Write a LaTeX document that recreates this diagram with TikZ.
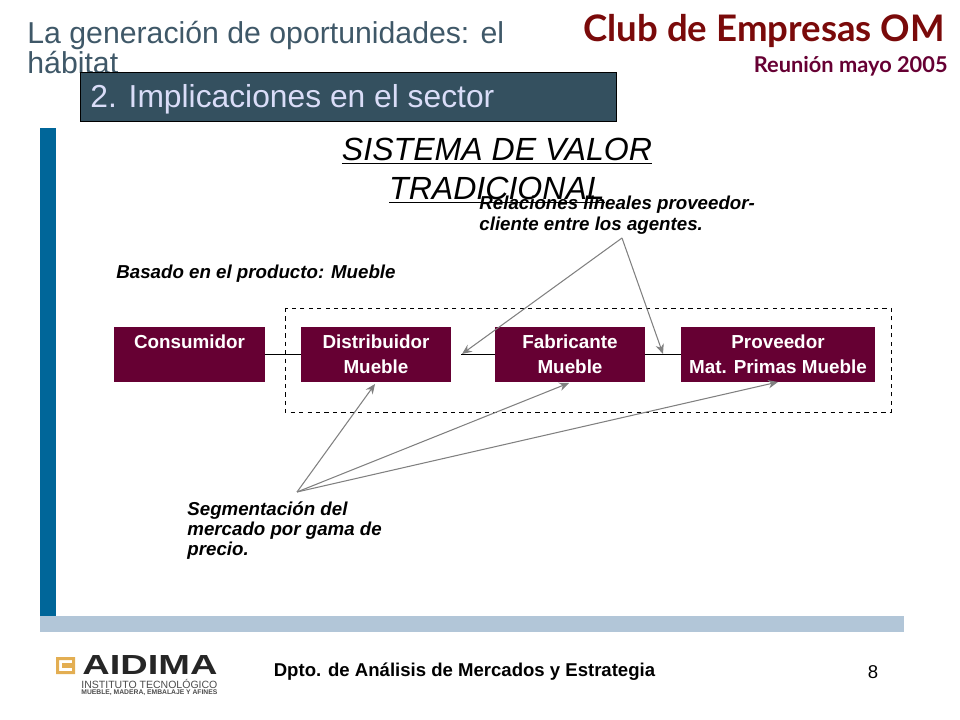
\documentclass[tikz,border=0pt]{standalone}
\usepackage{fontspec}
\usetikzlibrary{arrows.meta}
\setmainfont{Liberation Sans}
\newfontfamily\gillfont{Lato}
\newcommand{\fs}[2]{\fontsize{#1}{#2}\selectfont}
\definecolor{wine}{HTML}{660033}
\definecolor{clubred}{HTML}{7A0A0A}
\definecolor{barblue}{HTML}{006699}
\definecolor{barlight}{HTML}{B2C6D8}
\definecolor{headfill}{HTML}{34505F}
\definecolor{headtext}{HTML}{DADDF8}
\definecolor{titletext}{HTML}{3F5868}
\definecolor{logogold}{HTML}{E3AE52}
\begin{document}
\begin{tikzpicture}
  [x=0.025cm,y=-0.025cm,>=stealth,line width=.6pt,
   box/.style={fill=wine,text=white,font=\fs{13.4}{17.8}\bfseries,align=center,inner sep=0pt,minimum height=39.2pt},
   note/.style={font=\fs{13.3}{14.4}\bfseries\itshape,align=left,anchor=north west,inner sep=0pt},
   callout/.style={draw=gray,line width=.75pt,->,>={Stealth[length=7pt,width=6pt]}},]
\useasboundingbox (0,0) rectangle (960,720);

% bars and header
\fill[barblue] (40,128) rectangle (56,616);
\fill[barlight] (40,616) rectangle (904,632);
\node (maintitle) [anchor=north west,inner sep=0pt,align=left,text=titletext,font=\fs{21.5}{17.8}] at (27,21) {La generación de oportunidades: el\\hábitat};
\node (header) [draw=black,fill=headfill,anchor=north west,minimum width=381.5pt,minimum height=34.8pt,inner sep=0pt] at (80,72) {};
\node (headertext) [anchor=west,inner sep=0pt,text=headtext,font=\fs{22.6}{24}] at (90,99) {2. Implicaciones en el sector};
\node (club) [anchor=east,inner sep=0pt,text=clubred,font=\gillfont\fs{26}{26}\bfseries] at (945,31) {Club de Empresas OM};
\node (reunion) [anchor=east,inner sep=0pt,text=wine,font=\gillfont\fs{15.5}{16}\bfseries] at (948,66) {Reunión mayo 2005};

% text
\node (sistema) [inner sep=0pt,align=center,font=\fs{22.8}{27.7}\itshape] at (497,170.5) {\underline{SISTEMA DE VALOR}\\\underline{TRADICIONAL}};
\node (relaciones) [note] at (479,196) {Relaciones lineales proveedor-\\cliente entre los agentes.};
\node (basado) [note,anchor=west] at (116,274) {Basado en el producto: Mueble};
\node (segmentacion) [note] at (187,501) {Segmentación del\\mercado por gama de\\precio.};

% chain
\draw[dashed] (285,308) rectangle (891,412);
\node (consumidor) [box,minimum width=107.4pt] at (189.5,354.5) {Consumidor\\\mbox{}};
\node (distribuidor) [box,minimum width=106.7pt] at (376,354.5) {Distribuidor\\Mueble};
\node (fabricante) [box,minimum width=106.7pt] at (570,354.5) {Fabricante\\Mueble};
\node (proveedor) [box,minimum width=138pt] at (778,354.5) {Proveedor\\Mat. Primas Mueble};
\coordinate (gap) at (461,354.5);
\draw (consumidor) -- (distribuidor);
\draw (gap) -- (fabricante);
\draw (fabricante) -- (proveedor);

% callouts
\coordinate (relfrom) at (622,238);
\coordinate (segfrom) at (297,492);
\coordinate (reltipa) at (462,354);
\coordinate (reltipb) at (663,354);
\coordinate (segtipa) at (375,384);
\coordinate (segtipb) at (569,383);
\coordinate (segtipc) at (778,382);
\foreach \t in {reltipa,reltipb}
\draw[callout] (relfrom) -- (\t);
\foreach \t in {segtipa,segtipb,segtipc}
\draw[callout] (segfrom) -- (\t);

% footer
\node (dpto) [inner sep=0pt,font=\fs{13.2}{14}\bfseries] at (464.5,672) {Dpto. de Análisis de Mercados y Estrategia};
\node (pagenum) [inner sep=0pt,font=\fs{13.2}{14}] at (873,672) {8};

% logo
\fill[logogold,even odd rule] (56,657) rectangle (75,674) (59,660) rectangle (72,671);
\fill[logogold] (62,663) rectangle (75,668);
\node (aidima) [anchor=west,inner sep=0pt,text=black!85] at (82,665.5) {\resizebox{96pt}{13.5pt}{\bfseries AIDIMA}};
\node (instituto) [anchor=west,inner sep=0pt,text=black!70] at (81,683.5) {\resizebox{96.7pt}{!}{INSTITUTO TECNOLÓGICO}};
\node (mueble) [anchor=west,inner sep=0pt,text=black!70] at (81,692.5) {\resizebox{96.7pt}{!}{\bfseries MUEBLE, MADERA, EMBALAJE Y AFINES}};
  \end{tikzpicture}
\end{document}
